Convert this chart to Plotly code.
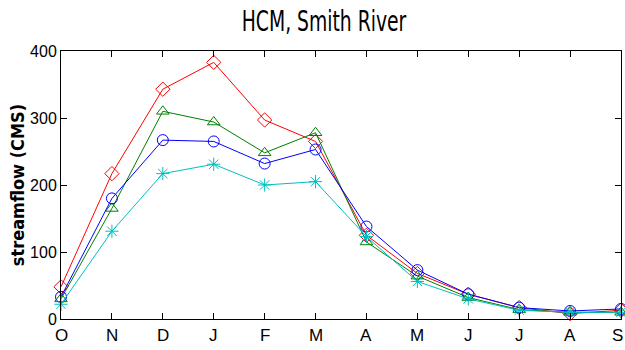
import plotly.graph_objects as go

months = ["O", "N", "D", "J", "F", "M", "A", "M", "J", "J", "A", "S"]
red_vals = [48, 217, 343, 383, 297, 265, 125, 68, 37, 17, 8, 13]
green_vals = [30, 165, 310, 294, 248, 278, 115, 64, 32, 14, 10, 10]
blue_vals = [33, 180, 267, 265, 232, 253, 138, 73, 37, 17, 12, 15]
cyan_vals = [22, 131, 217, 231, 200, 205, 123, 56, 30, 13, 10, 10]
y_ticks = [0, 100, 200, 300, 400]

xs = list(range(len(months)))

series = [
    (red_vals, "#ff0000", "diamond-open"),
    (green_vals, "#008000", "triangle-up-open"),
    (blue_vals, "#0000ff", "circle-open"),
    (cyan_vals, "#00bfbf", "asterisk-open"),
]

fig = go.Figure()
for vals, col, sym in series:
    fig.add_trace(go.Scatter(
        x=xs, y=vals, mode="lines+markers",
        line=dict(color=col, width=1),
        marker=dict(symbol=sym, size=11, color=col, line=dict(color=col, width=1)),
        showlegend=False, cliponaxis=False,
    ))

# month labels below the axis, one per category
last = len(months) - 1
for xv, lab in zip(xs, months):
    fig.add_annotation(
        x=xv, y=0, xref="x", yref="paper", text=lab, showarrow=False,
        xanchor="right" if xv == last else "center", xshift=4 if xv == last else 0,
        yanchor="middle", yshift=-16,
        font=dict(size=17, family="Liberation Sans, sans-serif", color="black"),
    )

fig.update_layout(
    width=625, height=350,
    margin=dict(l=61, r=4, t=51, b=31),
    paper_bgcolor="white", plot_bgcolor="white",
    title=dict(text="HCM, Smith River", xref="paper", xanchor="center",
               y=1 - 21 / 350, yref="container", yanchor="middle",
               font=dict(family="DejaVu Sans Condensed, Liberation Sans, sans-serif", size=29, color="black")),
    font=dict(family="Liberation Sans, Arial, sans-serif", color="black"),
)
fig.update_layout(title_x=(324 - 61) / (625 - 65))
fig.update_xaxes(
    range=[0, 11], tickvals=xs, showticklabels=False,
    showline=True, linecolor="black", linewidth=1, mirror="ticks",
    ticks="inside", ticklen=6, tickcolor="black",
    showgrid=False, zeroline=False,
)
fig.update_yaxes(
    range=[0, 400], tickvals=y_ticks,
    showline=True, linecolor="black", linewidth=1, mirror="ticks",
    ticks="inside", ticklen=6, tickcolor="black",
    showgrid=False, zeroline=False,
    tickfont=dict(size=16, family="Liberation Sans, sans-serif"),
    title=dict(text="<b>streamflow (CMS)</b>",
               font=dict(size=18, family="DejaVu Sans Condensed, Liberation Sans, sans-serif"), standoff=0),
)

post = """
document.body.style.margin = '0';
document.body.style.padding = '0';
var t = document.querySelector('.gtitle');
if (t) {
  var bb = t.getBBox();
  var cx = bb.x + bb.width / 2;
  t.setAttribute('transform', 'translate(' + cx + ',0) scale(0.72,1) translate(' + (-cx) + ',0)');
}
"""
fig.write_html("out.html", post_script=post, config={"displayModeBar": False})
